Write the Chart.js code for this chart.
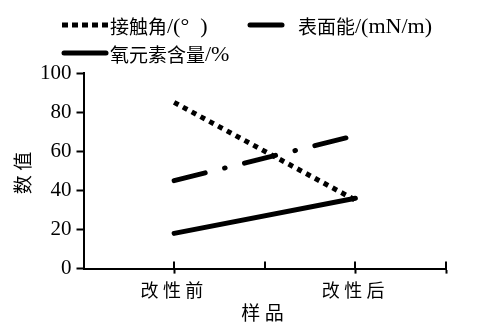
<!DOCTYPE html>
<html>
<head>
<meta charset="utf-8">
<script src="https://cdn.jsdelivr.net/npm/chart.js@4/dist/chart.umd.min.js"></script>
<style>
  html, body { margin: 0; padding: 0; background: #fff; }
  #wrap { width: 482px; height: 333px; }
</style>
</head>
<body>
<div id="wrap"><canvas id="c"></canvas></div>
<script>
// Samples and their positions on the x axis (0..4 with labels at 1 and 3)
const categories = ['改性前', '改性后'];
const categoryPos = [1, 3];
const yTicks = [0, 20, 40, 60, 80, 100];

const seriesNames = ['接触角/(°\u2002)', '表面能/(mN/m)', '氧元素含量/%'];
const contactAngle = [85, 35];
const surfaceEnergy = [45, 68];
const oxygenContent = [18, 36];

const serif = '"Liberation Serif", "Noto Sans CJK SC", serif';
const cjkFont = '19px "Noto Sans CJK SC", sans-serif';
const latinFont = '22px "Liberation Serif", serif';

function points(vals) {
  return vals.map((v, i) => ({ x: categoryPos[i], y: v }));
}

// Writes a label with CJK and Latin runs in their own fonts
function drawMixed(ctx, text, x, y) {
  const runs = text.match(/[\u3400-\u9fff]+|[^\u3400-\u9fff]+/g) || [];
  let cx = x;
  runs.forEach(r => {
    ctx.font = /[\u3400-\u9fff]/.test(r) ? cjkFont : latinFont;
    ctx.fillText(r, cx, y);
    cx += ctx.measureText(r).width;
  });
}

// Legend drawn in two rows above the plot
const legendPlugin = {
  id: 'topLegend',
  afterDraw(chart) {
    const ctx = chart.ctx;
    const items = [
      { ds: 0, x1: 62, x2: 109, y: 25, tx: 110 },
      { ds: 1, x1: 248, x2: 284, y: 25, tx: 298 },
      { ds: 2, x1: 62, x2: 108, y: 53, tx: 110 }
    ];
    ctx.save();
    ctx.letterSpacing = '0px';
    items.forEach(it => {
      const d = chart.data.datasets[it.ds];
      ctx.beginPath();
      ctx.strokeStyle = '#000';
      ctx.lineWidth = 5;
      ctx.lineCap = it.ds === 0 ? 'butt' : 'round';
      ctx.setLineDash(it.ds === 0 ? [6, 4] : []);
      ctx.moveTo(it.x1 + (it.ds === 0 ? 0 : 2), it.y);
      ctx.lineTo(it.x2 - (it.ds === 0 ? 0 : 2), it.y);
      ctx.stroke();
      ctx.setLineDash([]);
      ctx.fillStyle = '#000';
      ctx.textBaseline = 'middle';
      ctx.textAlign = 'left';
      drawMixed(ctx, d.label, it.tx, it.y + 2);
    });
    ctx.restore();
  }
};

// Wider character spacing for the Chinese axis texts; numbers are drawn after reset
const spacing = {
  id: 'spacing',
  beforeDraw(chart) { chart.ctx.letterSpacing = '4.5px'; },
  afterDatasetsDraw(chart) { chart.ctx.letterSpacing = '0px'; }
};

// Short upward tick marks on the x axis
const upTicks = {
  id: 'upTicks',
  afterDraw(chart) {
    const xs = chart.scales.x, ctx = chart.ctx;
    ctx.save();
    ctx.strokeStyle = '#000';
    ctx.lineWidth = 2;
    [1, 2, 3, 4].forEach(v => {
      const px = Math.round(xs.getPixelForValue(v));
      ctx.beginPath();
      ctx.moveTo(px, xs.top);
      ctx.lineTo(px, xs.top - 7);
      ctx.stroke();
    });
    ctx.restore();
  }
};

new Chart(document.getElementById('c'), {
  type: 'line',
  data: {
    datasets: [
      {
        label: seriesNames[0],
        data: points(contactAngle),
        borderColor: '#000',
        borderWidth: 5,
        borderDash: [5, 5],
        borderCapStyle: 'butt',
        pointRadius: 0,
        tension: 0
      },
      {
        label: seriesNames[1],
        data: points(surfaceEnergy),
        borderColor: '#000',
        borderWidth: 5,
        borderDash: [32, 20, 0.5, 20],
        borderCapStyle: 'round',
        pointRadius: 0,
        tension: 0
      },
      {
        label: seriesNames[2],
        data: points(oxygenContent),
        borderColor: '#000',
        borderWidth: 5,
        borderCapStyle: 'round',
        pointRadius: 0,
        tension: 0
      }
    ]
  },
  options: {
    responsive: true,
    maintainAspectRatio: false,
    animation: false,
    layout: { padding: { top: 73, left: 16, right: 36, bottom: 2 } },
    plugins: { legend: { display: false }, tooltip: { enabled: false } },
    scales: {
      x: {
        type: 'linear',
        min: 0,
        max: 4,
        afterBuildTicks(scale) {
          scale.ticks = [0, 1, 2, 3, 4].map(v => ({ value: v }));
        },
        ticks: {
          color: '#000',
          font: { family: serif, size: 18 },
          padding: 8,
          maxRotation: 0,
          autoSkip: false,
          callback(v) {
            const i = categoryPos.indexOf(v);
            return i >= 0 ? categories[i] : '';
          }
        },
        grid: {
          drawOnChartArea: false,
          tickLength: 5,
          tickWidth: 2,
          tickColor: ctx => (ctx.tick && (ctx.tick.value === 2 || ctx.tick.value === 0)) ? 'rgba(0,0,0,0)' : '#000'
        },
        border: { color: '#000', width: 2 },
        title: {
          display: true,
          text: '样品',
          color: '#000',
          font: { family: serif, size: 19 },
          padding: { top: -8, bottom: 5 }
        }
      },
      y: {
        min: 0,
        max: 100,
        afterBuildTicks(scale) {
          scale.ticks = yTicks.map(v => ({ value: v }));
        },
        ticks: {
          color: '#000',
          font: { family: serif, size: 21 },
          padding: 5,
          z: 1
        },
        grid: {
          drawOnChartArea: false,
          tickLength: 7,
          tickWidth: 2,
          tickColor: '#000'
        },
        border: { color: '#000', width: 2 },
        title: {
          display: true,
          text: '数值',
          color: '#000',
          font: { family: serif, size: 19, lineHeight: 1 },
          padding: { top: 0, bottom: 0 }
        }
      }
    }
  },
  plugins: [spacing, legendPlugin, upTicks]
});
</script>
</body>
</html>
